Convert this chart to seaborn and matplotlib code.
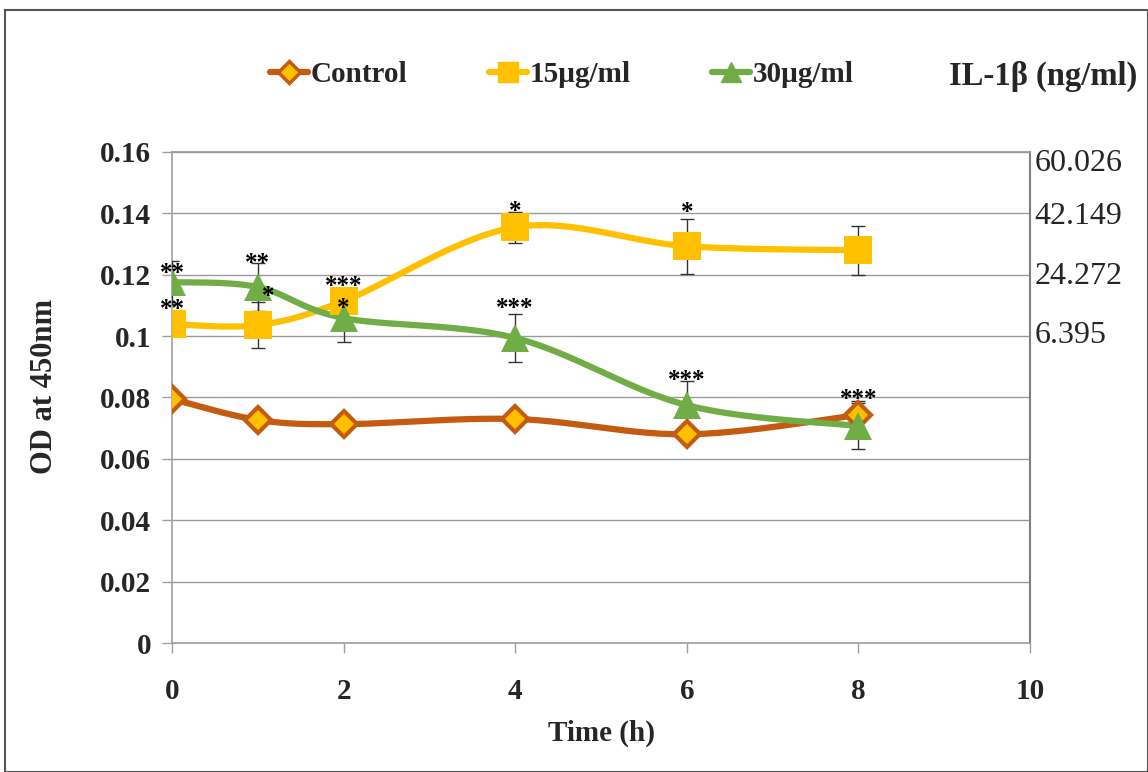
import numpy as np
import pandas as pd
import matplotlib
matplotlib.use("Agg")
import matplotlib.pyplot as plt
import seaborn as sns
from matplotlib.lines import Line2D
from matplotlib.patches import Rectangle

# ---------------- data ----------------
time_h = [0, 1, 2, 4, 6, 8]
control = [0.0795, 0.0727, 0.0713, 0.0730, 0.0680, 0.0743]
control_err = [0.0010, 0.0010, 0.0010, 0.0010, 0.0010, 0.0045]
dose15 = [0.1039, 0.1036, 0.1114, 0.1355, 0.1293, 0.1280]
dose15_err = [0.0036, 0.0075, 0.0030, 0.0050, 0.0090, 0.0080]
dose30 = [0.1176, 0.1160, 0.1059, 0.0994, 0.0775, 0.0707]
dose30_err = [0.0070, 0.0078, 0.0078, 0.0078, 0.0080, 0.0075]
series_names = ["Control", "15µg/ml", "30µg/ml"]

star_x = [0, 0, 1, 1.12, 2, 2, 4, 4, 6, 6, 8]
star_y = [0.1222, 0.1104, 0.1254, 0.1147, 0.1180, 0.1108, 0.1424, 0.1107, 0.1420, 0.0873, 0.0811]
star_txt = ["**", "**", "**", "*", "***", "*", "*", "***", "*", "***", "***"]

y_ticks = [0, 0.02, 0.04, 0.06, 0.08, 0.1, 0.12, 0.14, 0.16]
y_ticklabels = ["0", "0.02", "0.04", "0.06", "0.08", "0.1", "0.12", "0.14", "0.16"]
x_ticks = [0, 2, 4, 6, 8, 10]
right_ticks = [0.1575, 0.14, 0.1205, 0.1015]
right_labels = ["60.026", "42.149", "24.272", "6.395"]

# ---------------- style ----------------
sns.set_theme(style="white")
plt.rcParams['font.family'] = ['Liberation Serif', 'DejaVu Serif']

c_ctrl = "#C55A11"
c_ctrl_face = "#FFC000"
c_15 = "#FFC000"
c_30 = "#70AD47"


def smooth(xs, ys, n=40):
    """Bezier smoothing (like Excel smoothed lines), for drawing only."""
    xs = np.asarray(xs, float)
    ys = np.asarray(ys, float)
    P = np.column_stack([xs, ys])
    P = np.vstack([P[0], P, P[-1]])
    out = []
    for i in range(1, len(P) - 2):
        p0, p1, p2, p3 = P[i - 1], P[i], P[i + 1], P[i + 2]
        c1 = p1 + (p2 - p0) / 6.0
        c2 = p2 - (p3 - p1) / 6.0
        t = np.linspace(0, 1, n)[:, None]
        seg = ((1 - t) ** 3) * p1 + 3 * ((1 - t) ** 2) * t * c1 + 3 * (1 - t) * t ** 2 * c2 + t ** 3 * p2
        out.append(seg if i == 1 else seg[1:])
    s = np.vstack(out)
    return s[:, 0], s[:, 1]


fig = plt.figure(figsize=(11.48, 7.72), dpi=100)
ax = fig.add_axes([172 / 1148, 1 - 643 / 772, (1030 - 172) / 1148, (643 - 152) / 772])

ax.set_xlim(0, 10)
ax.set_ylim(0, 0.16)
ax.yaxis.grid(True, color="#9A9A9A", linewidth=1.0)
ax.set_axisbelow(True)

specs = [
    (control, control_err, c_ctrl, "D", c_ctrl_face, c_ctrl, 13, 3.0),
    (dose15, dose15_err, c_15, "s", c_15, c_15, 20, 0),
    (dose30, dose30_err, c_30, "^", c_30, c_30, 20, 0),
]

for vals, errs, col, mk, fc, ec, ms, mew in specs:
    ax.errorbar(time_h, vals, yerr=errs, fmt="none", ecolor="#333333",
                elinewidth=1.0, capsize=5, capthick=1.0, zorder=3)

for (vals, errs, col, mk, fc, ec, ms, mew), name in zip(specs, series_names):
    sx, sy = smooth(time_h, vals)
    df = pd.DataFrame({"x": sx, "y": sy})
    sns.lineplot(data=df, x="x", y="y", ax=ax, color=col, linewidth=4.5,
                 sort=False, estimator=None, zorder=4)
    ax.plot(time_h, vals, linestyle="none", marker=mk, markersize=ms,
            markerfacecolor=fc, markeredgecolor=ec, markeredgewidth=mew, zorder=5)

for sxp, syp, st in zip(star_x, star_y, star_txt):
    ax.annotate(st, (sxp, syp), xytext=(0, -4), textcoords="offset points",
                ha="center", va="center", fontsize=18,
                fontweight="bold", color="black", zorder=6)

ax.set_yticks(y_ticks)
ax.set_yticklabels(y_ticklabels)
ax.set_xticks(x_ticks)
for lab in ax.get_xticklabels() + ax.get_yticklabels():
    lab.set_fontweight("bold")
    lab.set_fontsize(21)
ax.tick_params(axis="both", which="major", direction="out", length=7,
               width=1, color="#A0A0A0", left=True, bottom=True)
ax.tick_params(axis="y", pad=8)
ax.tick_params(axis="x", pad=18)

for side in ["left", "bottom"]:
    ax.spines[side].set_color("#A0A0A0")
    ax.spines[side].set_linewidth(1.2)
ax.spines["top"].set_color("#9A9A9A")
ax.spines["right"].set_color("#808080")
ax.spines["right"].set_linewidth(1.5)

ax.set_xlabel("Time (h)", fontsize=21, fontweight="bold")
ax.xaxis.set_label_coords(0.5, -(733 - 643) / 491)
ax.xaxis.label.set_va("center")
ax.set_ylabel("OD at 450nm", fontsize=22, fontweight="bold")
ax.yaxis.set_label_coords(-(172 - 45) / 858, (643 - 387) / 491)
ax.yaxis.label.set_va("center")

ax2 = ax.twinx()
ax2.set_ylim(0, 0.16)
ax2.set_yticks(right_ticks)
ax2.set_yticklabels(right_labels, fontsize=23)
ax2.tick_params(axis="y", length=0, pad=3)
for s in ax2.spines.values():
    s.set_visible(False)
ax2.grid(False)

# legend
handles = [
    Line2D([], [], color=c_ctrl, lw=4.5, marker="D", markersize=11,
           markerfacecolor=c_ctrl_face, markeredgecolor=c_ctrl, markeredgewidth=2.5),
    Line2D([], [], color=c_15, lw=4.5, marker="s", markersize=15,
           markerfacecolor=c_15, markeredgecolor=c_15),
    Line2D([], [], color=c_30, lw=4.5, marker="^", markersize=15,
           markerfacecolor=c_30, markeredgecolor=c_30),
]
leg = fig.legend(handles, series_names, loc="center", bbox_to_anchor=(562 / 1148, 1 - 75 / 772),
                 ncol=3, frameon=False, handlelength=1.3, handletextpad=0.1,
                 columnspacing=2.8, prop={"weight": "bold", "size": 21})

fig.text(1043 / 1148, 1 - 76 / 772, "IL-1β (ng/ml)", ha="center", va="center",
         fontsize=23.5, fontweight="bold")

fig.patches.append(Rectangle((5 / 1148, 0), (1148 - 5) / 1148, 1 - 10 / 772,
                             transform=fig.transFigure, fill=False,
                             edgecolor="#555555", linewidth=1.5, zorder=0))

fig.savefig("out.png", dpi=100)
